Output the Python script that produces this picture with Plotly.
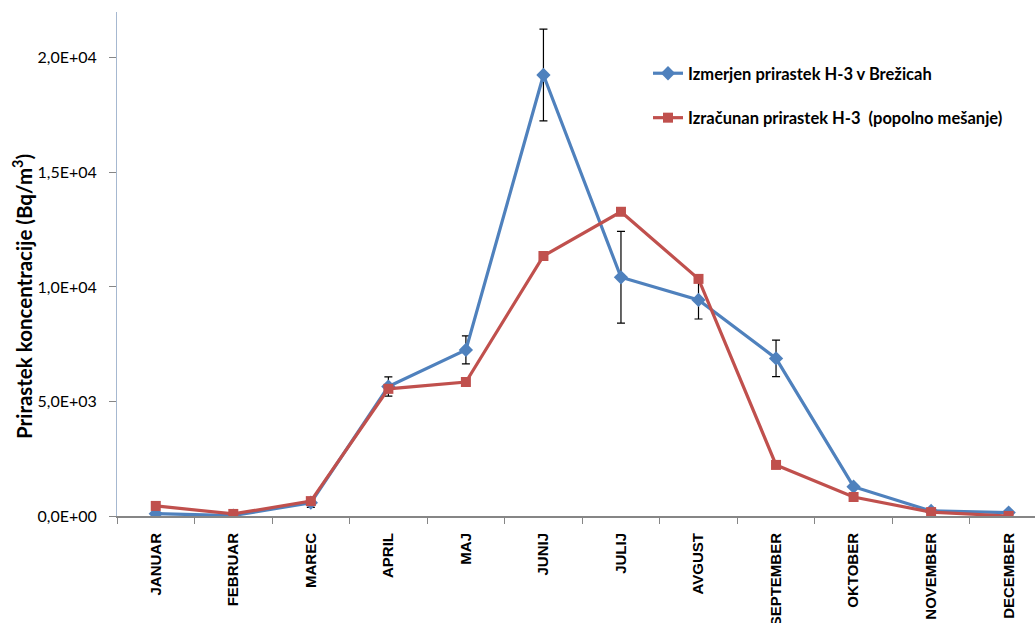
import plotly.graph_objects as go

months = ["JANUAR", "FEBRUAR", "MAREC", "APRIL", "MAJ", "JUNIJ", "JULIJ",
          "AVGUST", "SEPTEMBER", "OKTOBER", "NOVEMBER", "DECEMBER"]
measured = [100, 20, 580, 5650, 7250, 19250, 10420, 9430, 6880, 1280, 220, 150]
measured_err = [60, 40, 200, 420, 610, 2000, 2000, 830, 800, 80, 60, 40]
calculated = [440, 90, 650, 5550, 5850, 11350, 13280, 10350, 2230, 830, 170, 0]

name_meas = "Izmerjen prirastek H-3 v Brežicah"
name_calc = "Izračunan prirastek H-3  (popolno mešanje)"

ytick_vals = [0, 5000, 10000, 15000, 20000]
ytick_text = ["0,0E+00", "5,0E+03", "1,0E+04", "1,5E+04", "2,0E+04"]

FONT = "Lato, 'Open Sans', sans-serif"
FONT_X = "'Liberation Sans', Arial, sans-serif"

fig = go.Figure()
fig.add_trace(go.Scatter(
    x=months, y=measured, name=name_meas, mode="lines+markers",
    line=dict(color="#4F81BD", width=3.2),
    marker=dict(symbol="diamond", size=11, color="#4F81BD"),
    error_y=dict(type="data", array=measured_err, visible=True,
                 color="black", thickness=1.2, width=4),
    legendgroup="a",
))
fig.add_trace(go.Scatter(
    x=months, y=calculated, name=name_calc, mode="lines+markers",
    line=dict(color="#C0504D", width=3.2),
    marker=dict(symbol="square", size=10, color="#C0504D"),
    legendgroup="b",
))

W, H = 1035, 623
L, R, T, B = 117, 0, 12, 107
pw = W - L - R
ph = H - T - B

fig.update_layout(
    width=W, height=H,
    margin=dict(l=L, r=R, t=T, b=B, autoexpand=False),
    paper_bgcolor="white", plot_bgcolor="white",
    font=dict(family=FONT, color="black"),
    showlegend=True,
    legend=dict(
        x=(648 - L) / pw, y=(516 - 56) / ph, xanchor="left", yanchor="top",
        font=dict(family=FONT, size=16.5, color="black", weight="bold"),
        bgcolor="rgba(0,0,0,0)", tracegroupgap=20, itemwidth=30,
    ),
    xaxis=dict(
        type="category", range=[-0.5, 11.34], automargin=False,
        tickson="boundaries", ticks="outside", ticklen=6, tickcolor="#868686",
        showline=True, linecolor="#868686", linewidth=2,
        showgrid=False, zeroline=False,
        tickangle=-90, ticklabelstandoff=9,
        tickfont=dict(family=FONT_X, size=15, color="black", weight="bold"),
    ),
    yaxis=dict(
        range=[0, 22000], tickvals=ytick_vals, ticktext=ytick_text, automargin=False,
        ticks="outside", ticklen=7, tickcolor="#868686",
        showline=True, linecolor="#A6B8D0", linewidth=1,
        showgrid=False, zeroline=False, ticklabelstandoff=9,
        tickfont=dict(family=FONT, size=16, color="black"),
    ),
    annotations=[dict(
        text="Prirastek koncentracije (Bq/m<sup>3</sup>)",
        xref="paper", yref="paper",
        x=(22 - L) / pw, y=(516 - 297) / ph,
        xanchor="center", yanchor="middle", textangle=-90, showarrow=False,
        font=dict(family=FONT, size=20.5, color="black", weight="bold"),
    )],
)

fig.write_html("out.html", post_script="document.body.style.margin='0';",
               config={"displayModeBar": False})
